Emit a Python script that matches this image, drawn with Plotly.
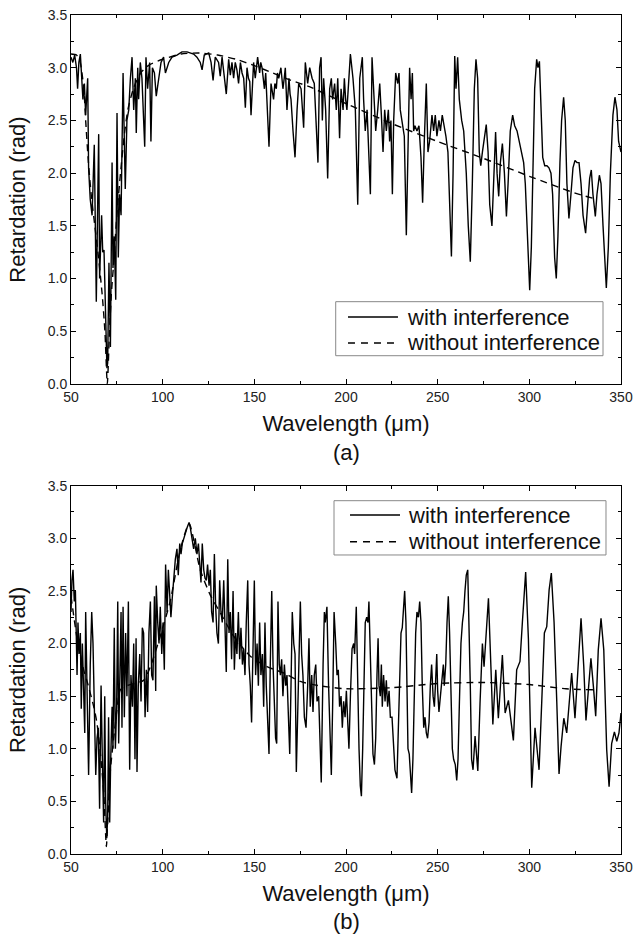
import plotly.graph_objects as go

# ---------------- Panel (a) ----------------
wl_a = [
    50, 51, 52, 53, 53.6, 54.3, 55.1, 55.8, 56.5, 57.3,
    58, 59.1, 59.6, 60.5, 61.5, 62.7, 63.8, 65.1, 65.6, 66.7,
    67.3, 68, 68.9, 69.6, 70, 70.7, 71.5, 72.4, 72.9, 73.6,
    74.4, 75.1, 75.8, 76.5, 77.3, 78.4, 79.1, 79.6, 80.5, 81.5,
    82.4, 83.3, 84.2, 85.1, 85.6, 86.4, 86.9, 87.8, 88.7, 89.6,
    90.2, 90.9, 91.8, 92.9, 93.6, 94.4, 95.5, 96.5, 97.8, 99.1,
    100.5, 101.5, 103.3, 105.1, 107.8, 110.5, 113.3, 116.9, 118.7, 120.5,
    121.5, 122.7, 125.1, 126.4, 127.5, 128.7, 130.5, 131.4, 132.4, 133.3,
    134.7, 136, 136.9, 137.8, 138.7, 139.6, 140.5, 141.4, 142.4, 143.3,
    144.2, 145.1, 146, 146.8, 147.5, 148.2, 149.6, 150.5, 151.2, 151.8,
    152.9, 153.5, 154.2, 155.5, 156.2, 156.9, 158, 159.1, 159.8, 160.5,
    161.2, 162, 162.6, 163.3, 164.5, 165.6, 166.3, 166.9, 167.8, 168.9,
    169.5, 170, 171.1, 172.2, 173.3, 174.2, 175.5, 176.9, 177.8,
    179.1, 180.2, 181.5, 182.7, 183.8, 184.7, 185.6, 186.4, 187.1, 187.8,
    188.9, 190, 191.1, 192, 192.7, 193.8, 194.7, 195.5, 196.5, 197.3,
    198.4, 199.1, 199.8, 200.5, 202.4, 203.8, 205.1, 206.4, 207.5, 208.9,
    209.6, 210.5, 211.5, 212.4, 213.3, 214.2, 215.1, 216.2, 217.3, 218.4,
    219.3, 220.2, 221.1, 222, 223.1, 223.8, 224.5, 225.3, 226, 227.1,
    228.2, 228.9, 229.6, 230.7, 231.8, 232.9, 233.8, 234.7, 235.5, 236.2,
    236.9, 237.6, 238.7, 239.8, 240.9, 241.8, 242.7, 243.8, 244.7, 245.6,
    246.9, 247.8, 248.7, 249.6, 250.7, 251.5, 252.5, 253.6, 254.5, 255.6,
    256.5, 257.5, 258.4, 259.3, 260, 260.9, 261.8, 263.1, 264.2, 265.6,
    266.7, 267.8, 268.9, 270, 270.9, 271.8, 272.7, 273.5, 274.4, 275.5,
    276.5, 277.5, 278.4, 279.6, 280.5, 281.6, 282.4, 283.3, 284.2, 285.3,
    286.4, 287.5, 288.4, 289.6, 290.9, 292, 293.3, 294.5, 295.6, 296.9,
    297.8, 298.7, 299.6, 300.2, 301.1, 302, 302.9, 304, 304.7, 305.5,
    306.4, 307.3, 308.4, 309.6, 310.7, 311.8, 312.7, 313.8, 314.7, 315.6,
    316.7, 317.6, 318.7, 319.6, 320.5, 321.6, 322.7, 323.8, 324.9, 326,
    327.1, 328.2, 329.3, 330.7, 331.8, 332.9, 333.8, 334.7, 336, 336.9,
    338.2, 339.1, 340.2, 341.3, 342, 343.1, 344.2, 345.6, 346.7, 347.8,
    348.7, 350,
]
ret_a = [
    3.1, 3.05, 3.12, 3.0, 2.8, 3.05, 3.13, 2.95, 2.7, 2.85,
    2.55, 2.9, 2.05, 1.75, 1.6, 2.27, 0.78, 2.37, 1.0, 1.6,
    1.25, 1.27, 0.5, 0.15, 0.2, 1.15, 0.35, 2.1, 1.1, 1.4,
    0.8, 2.57, 1.2, 1.8, 1.6, 2.95, 2.3, 1.85, 2.5, 2.6,
    2.9, 3.1, 2.6, 2.9, 2.38, 3.0, 2.7, 3.05, 2.9, 2.4,
    2.25, 3.1, 2.8, 3.05, 2.3, 3.0, 2.95, 2.73, 2.9, 3.05,
    3.1, 2.95, 3.05, 3.1, 3.12, 3.15, 3.15, 3.13, 3.1, 3.05,
    2.98, 3.12, 3.14, 3.05, 2.88, 3.1, 3.05, 2.92, 3.1, 2.95,
    2.75, 3.08, 2.93, 3.05, 2.9, 3.05, 2.98, 2.85, 3.05, 2.95,
    2.9, 2.62, 3.0, 2.9, 2.87, 2.55, 3.05, 2.9, 3.05, 3.1,
    2.95, 3.05, 3.0, 2.8, 2.95, 2.6, 2.25, 2.85, 2.75, 2.7,
    2.85, 2.8, 2.95, 2.9, 3.0, 2.8, 2.9, 3.0, 2.6, 2.9,
    2.75, 2.7, 2.4, 2.15, 2.6, 2.85, 2.8, 2.43, 3.05,
    2.85, 3.0, 2.9, 2.85, 2.5, 2.1, 3.0, 3.1, 2.5, 2.9,
    2.6, 1.95, 2.8, 2.9, 2.7, 2.85, 2.6, 2.9, 2.33, 2.8,
    2.6, 2.9, 2.7, 2.6, 3.13, 2.9, 2.6, 1.7, 2.9, 3.1,
    2.7, 2.4, 2.6, 2.2, 1.8, 3.1, 2.8, 2.4, 2.6, 2.85,
    2.55, 2.2, 2.6, 2.4, 2.6, 2.3, 2.5, 1.8, 2.5, 2.95,
    2.85, 2.95, 2.6, 2.45, 2.35, 1.41, 2.2, 3.0, 2.7, 2.95,
    2.4, 2.45, 2.4, 2.45, 2.15, 1.72, 2.3, 2.85, 2.2, 2.3,
    2.55, 2.4, 2.55, 2.35, 2.5, 2.4, 2.55, 2.45, 2.35, 2.2,
    1.8, 1.21, 2.0, 3.11, 2.8, 3.1, 2.7, 2.5, 2.4, 2.0,
    1.5, 1.16, 1.9, 2.8, 3.08, 2.9, 2.2, 2.07, 2.2, 2.35,
    2.46, 2.2, 1.7, 1.5, 1.9, 2.39, 2.0, 1.78, 2.1, 2.28,
    2.0, 1.59, 1.9, 2.4, 2.55, 2.45, 2.4, 2.3, 2.2, 2.1,
    1.9, 1.5, 1.0, 0.89, 1.3, 2.0, 2.8, 3.08, 3.0, 3.06,
    2.6, 2.15, 2.07, 2.07, 2.05, 2.0, 1.8, 1.2, 1.0, 1.4,
    2.1, 2.5, 2.72, 2.5, 1.9, 1.57, 1.8, 2.05, 2.12, 2.1,
    2.1, 1.9, 1.6, 1.43, 1.7, 1.95, 2.03, 1.8, 1.59, 1.8,
    1.98, 1.9, 1.5, 1.1, 0.91, 1.3, 2.0, 2.55, 2.72, 2.6,
    2.3, 2.2,
]
wl_a_ref = [50, 53, 55, 57, 58, 59.5, 61, 63, 65, 67, 68.5, 69.8, 71, 72, 73.5,
            75, 77, 79, 81, 84, 88, 93, 100, 110, 120, 130, 140, 150, 160, 170,
            180, 200, 225, 250, 275, 300, 325, 335]
ret_a_ref = [3.13, 3.12, 3.05, 2.8, 2.5, 2.1, 1.8, 1.5, 1.2, 0.85, 0.5, 0.0, 0.5, 0.85, 1.2,
             1.6, 2.0, 2.35, 2.6, 2.8, 2.95, 3.03, 3.08, 3.13, 3.14, 3.12, 3.08, 3.02, 2.95, 2.88,
             2.82, 2.66, 2.47, 2.3, 2.14, 1.97, 1.81, 1.76]

# ---------------- Panel (b) ----------------
wl_b = [
    50, 50.5, 51.1, 51.8, 52.4, 52.9, 53.3, 53.8, 54.4, 55.1,
    55.6, 56.2, 56.9, 57.5, 58, 58.7, 59.6, 60.5, 61.3, 62,
    62.7, 63.5, 64.2, 64.9, 65.6, 66.4, 67.1, 67.8, 68.4, 68.9,
    69.5, 70, 70.5, 71.1, 71.6, 72.4, 72.9, 73.6, 74.2, 74.9,
    75.5, 76, 76.5, 77.3, 77.8, 78.4, 79.1, 79.8, 80.5, 81.3,
    82, 82.7, 83.5, 84.2, 84.9, 85.5, 86, 86.7, 87.5, 88.2,
    88.9, 89.6, 90.4, 91.1, 91.8, 92.5, 93.3, 94, 94.7, 95.5,
    96.2, 96.5, 97.3, 98, 98.7, 99.5, 100.2, 100.9, 101.6, 102.4,
    103.1, 103.8, 104.5, 105.3, 106, 106.9, 107.8, 108.5, 109.3, 110,
    110.7, 111.5, 112.4, 113.3, 114.4, 115.1, 116, 116.9, 117.8, 118.7,
    119.5, 120.2, 120.9, 121.6, 122.4, 123.1, 123.8, 124.5, 125.3, 126,
    126.7, 127.5, 128.2, 128.9, 129.6, 130.4, 131.1, 131.8, 132.5, 133.3,
    134, 134.7, 135.5, 136.2, 136.9, 137.6, 138.4, 139.1, 139.8, 140.5,
    141.3, 142, 142.7, 143.5, 144.2, 144.9, 145.6, 146.4, 147.1, 147.8,
    148.5, 149.3, 150, 150.7, 151.5, 152.2, 152.9, 153.6, 154.4, 155.1,
    155.8, 156.5, 157.3, 158, 158.7, 159.5, 160.2, 160.9, 161.6, 162.2,
    162.9, 163.6, 164.2, 164.9, 165.6, 166.4, 167.1, 167.8, 168.5, 169.3,
    170, 170.7, 171.5, 172.2, 172.9, 173.6, 174.4,
    175.1, 175.8, 176.5, 177.3, 178.2, 179.1, 179.8, 180.5, 181.3, 182,
    182.7, 183.5, 184.2, 185.1, 186.5, 187.5, 188.2, 188.7, 189.6, 190.5,
    191.5, 192, 192.7, 193.5, 194.4, 195.1, 195.8, 196.5, 197.3, 198,
    198.7, 199.5, 200.2, 200.9, 201.6, 202.4, 203.3, 204.2, 204.7, 205.6,
    206.4, 207.1, 207.8, 208.4, 209.1, 209.8, 210.5, 211.3, 212, 212.5,
    213.3, 214, 214.7, 215.5, 216.2, 216.9, 217.5, 218, 218.7, 219.3,
    219.8, 220.5, 221.3, 222, 222.7, 223.5, 224.2, 225.1, 225.8, 226.7,
    227.8, 228.5, 229.3, 230, 230.7, 231.5, 232, 232.7, 233.3, 233.8,
    234.5, 235.1, 235.8, 236.5, 237.3, 238, 238.7, 239.5, 240.2, 240.9,
    241.6, 242.4, 243.1, 243.8, 244.5, 245.3, 246, 246.7, 247.5, 248.2,
    248.9, 249.5, 250, 250.7, 251.5, 252.4, 253.1, 253.6, 254.4, 255.1,
    255.8, 256.5, 257.3, 258, 258.7, 259.6, 260.4, 261.1, 261.8, 262.7,
    263.5, 264.2, 264.9, 265.6, 266.4, 267.1, 267.8, 268.5, 269.3,
    270.4, 271.9, 273.1, 274.4, 275.3, 277.7, 279.1, 280.1, 281.7, 283.1,
    285.3, 286.8, 288.6, 291.3, 293.1, 294.9, 296.2, 298, 299.5, 301.3,
    303.1, 305.3, 306.8, 308.2, 309.5, 310.8, 312, 313.5, 315, 316.2,
    317.3, 318.8, 320.4, 321.7, 323.1, 324.9, 326.7, 328.2, 329.7, 330.9,
    332.2, 333.6, 335.1, 336.2, 337.6, 339.1, 340.6, 342.2, 343.5, 344.9,
    346.4, 347.7, 348.9, 350,
]
ret_b = [
    2.3, 2.6, 2.7, 2.4, 2.5, 2.0, 1.7, 2.2, 1.9, 2.1,
    1.38, 2.0, 1.6, 1.15, 2.3, 1.6, 0.75, 1.8, 2.3, 2.0,
    1.3, 0.75, 1.1, 1.2, 0.43, 1.6, 0.9, 0.3, 1.5, 0.5,
    0.15, 0.35, 1.3, 0.3, 0.85, 1.4, 1.0, 2.15, 1.0, 1.4,
    2.4, 1.05, 1.55, 2.3, 1.2, 2.35, 1.3, 2.1, 1.5, 2.4,
    0.8, 1.7, 1.4, 2.0, 0.9, 2.05, 0.78, 1.6, 1.9, 1.45,
    2.15, 2.1, 1.3, 1.75, 1.35, 2.1, 2.4, 1.7, 1.65, 2.45,
    1.55, 2.55, 2.2, 2.0, 2.35, 1.9, 2.2, 1.75, 2.75, 2.3,
    2.7, 2.5, 2.25, 2.45, 2.6, 2.8, 2.9, 2.65, 2.95, 2.85,
    2.95, 3.0, 3.05, 3.1, 3.15, 3.1, 3.0, 2.9, 3.0, 2.85,
    2.95, 2.7, 2.58, 2.95, 2.7, 2.62, 2.6, 2.75, 2.55, 2.7,
    2.3, 2.2, 2.85, 2.35, 2.1, 2.0, 2.6, 2.3, 2.2, 2.6,
    2.1, 1.73, 2.8, 2.1, 2.3, 1.85, 2.5, 1.75, 2.1, 1.9,
    2.3, 1.85, 2.15, 1.8, 1.95, 1.7, 2.2, 2.6, 1.8, 1.6,
    1.25, 2.0, 2.6, 1.7, 2.0, 1.6, 2.2, 1.7, 1.9, 1.4,
    2.2, 1.6, 1.3, 0.95, 1.8, 2.5, 1.8, 1.5, 1.1, 1.05,
    2.4, 1.8, 1.7, 1.85, 1.5, 1.8, 1.6, 1.7, 1.4, 0.95,
    1.6, 2.3, 2.0, 1.9, 0.78, 1.4, 2.0,
    2.4, 1.9, 1.7, 1.3, 1.2, 1.6, 2.05, 1.4, 1.7, 1.35,
    1.7, 1.8, 1.45, 1.5, 0.68, 1.8, 2.3, 2.2, 2.35, 1.6,
    1.0, 0.75, 1.4, 2.3, 2.0, 1.7, 1.75, 1.4, 1.5, 1.2,
    1.45, 1.3, 1.55, 1.2, 1.0, 1.5, 1.95, 2.0, 1.9, 2.35,
    1.5, 1.0, 0.65, 0.55, 1.0, 1.6, 2.2, 2.25, 2.2, 2.4,
    1.9, 1.3, 0.95, 0.85, 1.1, 1.7, 2.05, 1.6, 1.5, 1.8,
    1.4, 1.7, 1.45, 1.65, 1.4, 1.55, 1.3, 1.3, 1.1, 0.8,
    0.72, 1.2, 1.9, 2.1, 2.15, 2.4, 2.5, 2.2, 1.6, 1.0,
    0.95, 0.8, 0.58, 0.9, 1.5, 2.1, 2.3, 2.25, 2.4, 2.2,
    1.6, 1.2, 1.3, 1.15, 1.1, 1.25, 1.6, 1.8, 1.5, 1.4,
    1.65, 1.9, 1.55, 1.35, 1.5, 1.7, 1.8, 1.6, 1.8, 2.2,
    2.45, 2.1, 1.5, 1.0, 0.9, 0.85, 0.7, 0.9, 1.4, 2.0,
    2.2, 2.3, 2.5, 2.65, 2.7, 2.2, 1.6, 0.9, 0.8,
    1.12, 0.79, 1.43, 2.0, 1.78, 2.43, 1.75, 1.23, 1.75, 1.29,
    1.89, 1.34, 1.46, 1.08, 1.75, 1.83, 2.2, 2.68, 2.04, 0.63,
    1.2, 0.8, 1.46, 2.1, 2.16, 2.51, 2.67, 2.2, 1.43, 0.76,
    1.02, 1.29, 1.15, 1.43, 1.72, 1.29, 1.78, 2.24, 1.78, 1.27,
    1.56, 1.86, 1.56, 1.31, 1.94, 2.24, 1.94, 0.99, 0.64, 1.05,
    1.16, 1.07, 1.15, 1.34,
]
wl_b_ref = [50, 53.3, 56.9, 59.1, 62.4, 64.2, 66, 67.8, 69.3, 70, 71.5, 74.2, 76.9, 80.5,
            89.6, 93.3, 98.7, 104.2, 109.6, 114.4, 120.5, 126, 131.5, 138.7, 147.8, 156.9,
            166, 175.1, 185, 200, 225, 250, 275, 300, 320, 335]
ret_b_ref = [2.45, 2.05, 1.75, 1.62, 1.4, 1.24, 0.96, 0.6, 0.07, 0.3, 0.8, 1.24, 1.56, 1.6,
             1.65, 1.78, 2.07, 2.41, 2.89, 3.14, 2.7, 2.46, 2.29, 2.07, 1.88, 1.78,
             1.72, 1.64, 1.6, 1.57, 1.58, 1.62, 1.63, 1.61, 1.57, 1.56]

x_ticks = [50, 100, 150, 200, 250, 300, 350]
y_ticks = [0.0, 0.5, 1.0, 1.5, 2.0, 2.5, 3.0, 3.5]
legend_labels = ["with interference", "without interference"]
panel_labels = ["(a)", "(b)"]

FONT = "Liberation Sans, Arial, sans-serif"
LW = 1.4
DASH = "7px,5px"
TXT = "#111"

fig = go.Figure()
fig.add_trace(go.Scatter(x=wl_a, y=ret_a, mode="lines", name=legend_labels[0],
                         line=dict(color="black", width=LW), xaxis="x", yaxis="y",
                         showlegend=False))
fig.add_trace(go.Scatter(x=wl_a_ref, y=ret_a_ref, mode="lines", name=legend_labels[1],
                         line=dict(color="black", width=LW, dash=DASH, shape="spline", smoothing=0.6),
                         xaxis="x", yaxis="y", showlegend=False))
fig.add_trace(go.Scatter(x=wl_b, y=ret_b, mode="lines", name=legend_labels[0],
                         line=dict(color="black", width=LW), xaxis="x2", yaxis="y2",
                         showlegend=False))
fig.add_trace(go.Scatter(x=wl_b_ref, y=ret_b_ref, mode="lines", name=legend_labels[1],
                         line=dict(color="black", width=LW, dash=DASH, shape="spline", smoothing=0.6),
                         xaxis="x2", yaxis="y2", showlegend=False))

def xaxis(anchor):
    return dict(
        anchor=anchor, domain=[0, 1], range=[50, 350], tickvals=x_ticks,
        showline=True, linecolor="black", linewidth=1, mirror="allticks",
        ticks="inside", ticklen=5, tickwidth=1, tickcolor="black",
        showgrid=False, zeroline=False,
        tickfont=dict(family=FONT, size=14, color="#222"),
        minor=dict(ticks="inside", ticklen=3, tickwidth=1, tickcolor="black",
                   dtick=25, tick0=50, showgrid=False),
        title=dict(text="Wavelength (\u03bcm)", font=dict(family=FONT, size=22, color=TXT),
                   standoff=11),
    )

def yaxis(anchor, dom):
    return dict(
        anchor=anchor, domain=dom, range=[0, 3.5], tickvals=y_ticks, tickformat=".1f",
        showline=True, linecolor="black", linewidth=1, mirror="allticks",
        ticks="inside", ticklen=5, tickwidth=1, tickcolor="black",
        showgrid=False, zeroline=False,
        tickfont=dict(family=FONT, size=14, color="#222"),
        minor=dict(ticks="inside", ticklen=3, tickwidth=1, tickcolor="black",
                   dtick=0.25, tick0=0, showgrid=False),
        title=dict(text="Retardation (rad)", font=dict(family=FONT, size=22, color=TXT),
                   standoff=16),
    )

# manual legends (paper coordinates)
shapes = []
annotations = []
legend_boxes = [
    # box x0, x1, y_top, y_bottom, line x0, x1, y_solid, y_dash, text x
    (0.4813, 0.9673, 0.6583, 0.5939, 0.5036, 0.5945, 0.6400, 0.6091, 0.6073),
    (0.4782, 0.9727, 0.4211, 0.3564, 0.5073, 0.5982, 0.4040, 0.3721, 0.6091),
]
for (bx0, bx1, byt, byb, lx0, lx1, ys, yd, tx) in legend_boxes:
    shapes.append(dict(type="rect", xref="paper", yref="paper", x0=bx0, x1=bx1, y0=byb, y1=byt,
                       line=dict(color="#888", width=1), fillcolor="white", layer="above"))
    shapes.append(dict(type="line", xref="paper", yref="paper", x0=lx0, x1=lx1, y0=ys, y1=ys,
                       line=dict(color="black", width=LW), layer="above"))
    shapes.append(dict(type="line", xref="paper", yref="paper", x0=lx0, x1=lx1, y0=yd, y1=yd,
                       line=dict(color="black", width=LW, dash="7px,6px"), layer="above"))
    for lbl, yy in zip(legend_labels, (ys, yd)):
        annotations.append(dict(text=lbl, x=tx, y=yy, xref="paper", yref="paper",
                                showarrow=False, xanchor="left", yanchor="middle",
                                font=dict(family=FONT, size=22, color=TXT)))

for lbl, yy in zip(panel_labels, (0.4791, -0.081)):
    annotations.append(dict(text=lbl, x=0.5, y=yy, xref="paper", yref="paper", showarrow=False,
                            xanchor="center", yanchor="middle",
                            font=dict(family=FONT, size=22, color=TXT)))

fig.update_layout(
    width=634, height=934,
    margin=dict(l=71, r=13, t=15, b=80, autoexpand=False),
    paper_bgcolor="white", plot_bgcolor="white",
    font=dict(family=FONT, color=TXT),
    showlegend=False,
    xaxis=xaxis("y"), yaxis=yaxis("x", [0.5602, 1.0]),
    xaxis2=xaxis("y2"), yaxis2=yaxis("x2", [0.0, 0.4390]),
    shapes=shapes,
    annotations=annotations,
)

fig.write_html("out.html",
               config={"displayModeBar": False, "staticPlot": True},
               post_script="document.body.style.margin='0';document.body.style.overflow='hidden';")
